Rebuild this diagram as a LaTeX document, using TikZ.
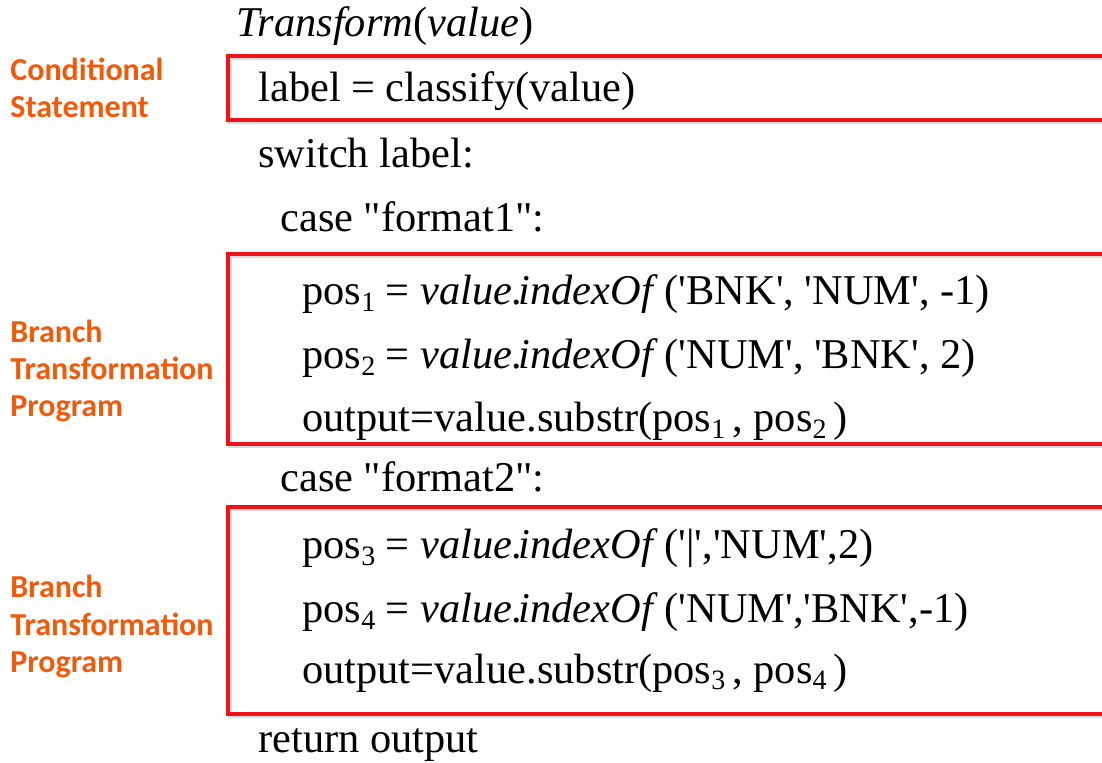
\documentclass[tikz,border=0pt]{standalone}
\usepackage{fontspec}
\setmainfont{Liberation Serif}
\newfontfamily\notefont{Carlito}
\definecolor{boxred}{RGB}{236,20,26}
\definecolor{noteorange}{RGB}{240,90,10}
\newcommand{\q}{\textquotesingle}
\newcommand{\dq}{\textquotedbl}
\newcommand{\sub}[1]{\raisebox{-3.4pt}{\fontsize{14}{14}\selectfont #1}}
\newcommand{\idx}{\textit{value.\kern-0.1em indexOf}\,}
\begin{document}
\begin{tikzpicture}[x=0.5pt,y=-0.5pt,
  code/.style={anchor=base west, inner sep=0pt, font=\fontsize{21.2}{24}\selectfont},
  note/.style={anchor=base west, inner sep=0pt, align=left, text=noteorange,
    font=\notefont\bfseries\fontsize{16}{18.5}\selectfont},
  frame/.style={draw=boxred, line width=1.8pt},
  frameshadow/.style={draw=black!15, line width=1.8pt}]
\useasboundingbox (0,0) rectangle (1102,763);
\clip (0,0) rectangle (1102,763);

% red frames with a soft drop shadow
\foreach \t/\b in {56/120, 254/444, 507/714}{
  \draw[frameshadow] (230,\t+2.5) rectangle (1120,\b+2.5);
  \draw[frame] (228,\t) rectangle (1120,\b);
}

% pseudo-code
\node[code] (sig)   at (236,37)  {\textit{Transform}(\textit{value})};
\node[code] (cls)   at (258,102) {label = classify(value)};
\node[code] (sw)    at (258,168) {switch label:};
\node[code] (caseA) at (280,232) {case \dq format1\dq:};
\node[code] (p1)    at (302,305) {pos\sub{1} = \idx(\q BNK\q, \q NUM\q, -1)};
\node[code] (p2)    at (302,369) {pos\sub{2} = \idx(\q NUM\q, \q BNK\q, 2)};
\node[code] (outA)  at (302,432) {output=value.substr(pos\sub{1}\,, pos\sub{2}\,)};
\node[code] (caseB) at (280,492) {case \dq format2\dq:};
\node[code] (p3)    at (302,559) {pos\sub{3} = \idx(\q|\q,\q NUM\q,2)};
\node[code] (p4)    at (302,623) {pos\sub{4} = \idx(\q NUM\q,\q BNK\q,-1)};
\node[code] (outB)  at (302,683) {output=value.substr(pos\sub{3}\,, pos\sub{4}\,)};
\node[code] (ret)   at (258,752) {return output};

% side notes (anchored on the baseline of their last line)
\node[note] (nCond) at (10,118) {Conditional\\Statement};
\node[note] (nBrA)  at (10,417) {Branch\\Transformation\\Program};
\node[note] (nBrB)  at (10,672) {Branch\\Transformation\\Program};
\end{tikzpicture}
\end{document}
